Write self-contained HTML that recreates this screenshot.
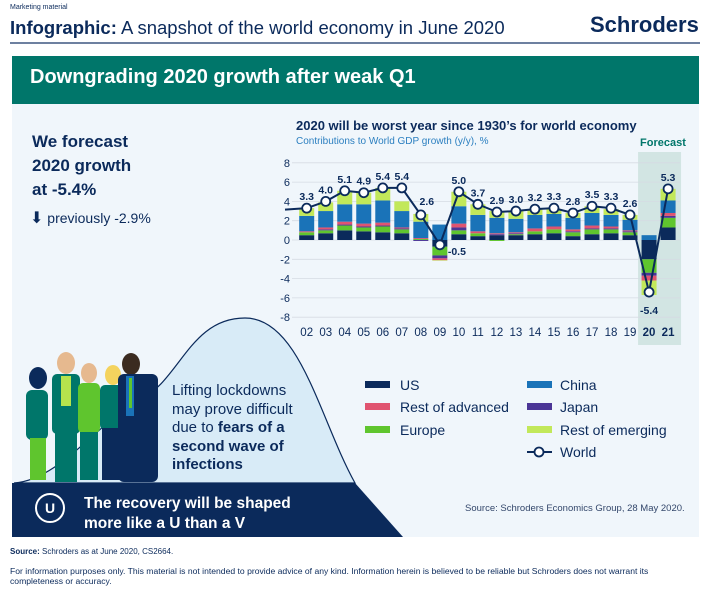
<!DOCTYPE html>
<html><head><meta charset="utf-8"><style>
body{margin:0;width:711px;height:600px;background:#fff;font-family:"Liberation Sans","DejaVu Sans",sans-serif;color:#0b2a5b;position:relative;overflow:hidden}
.a{position:absolute;white-space:nowrap}
</style></head><body>
<div class="a" style="left:10px;top:4px;font-size:7px">Marketing material</div>
<div class="a" style="left:10px;top:17px;font-size:18.5px"><b>Infographic:</b> A snapshot of the world economy in June 2020</div>
<div class="a" style="left:590px;top:12px;font-size:22px;font-weight:bold;color:#0b2a5b">Schroders</div>
<div class="a" style="left:10px;top:42px;width:690px;height:2px;background:#6d80a0"></div>
<div class="a" style="left:12px;top:56px;width:687px;height:481px;background:#f0f6fb"></div>
<div class="a" style="left:12px;top:56px;width:687px;height:48px;background:#00766a"></div>
<div class="a" style="left:30px;top:66px;font-size:20px;font-weight:bold;color:#fff">Downgrading 2020 growth after weak Q1</div>
<div class="a" style="left:32px;top:130px;font-size:17px;font-weight:bold;line-height:24px">We forecast<br>2020 growth<br>at -5.4%</div>
<div class="a" style="left:30px;top:208px;font-size:14px"><span style="font-size:16px">&#11015;</span> previously -2.9%</div>

<svg class="a" style="left:0;top:0" width="711" height="600">
<path d="M14,483 C60,480 100,420 140,400 C180,380 190,318 245,318 C300,318 320,420 355,483 Z" fill="#d8ebf7" stroke="#0b2a5b" stroke-width="1.2"/>
<path d="M12,483 L355,483 L403,537 L12,537 Z" fill="#0b2a5b"/>
<g>
<ellipse cx="38" cy="378" rx="9" ry="11" fill="#0b2a5b"/><rect x="26" y="390" width="22" height="50" rx="6" fill="#00766a"/><rect x="30" y="438" width="16" height="42" fill="#5fc52e"/>
<ellipse cx="66" cy="363" rx="9" ry="11" fill="#e6b98f"/><rect x="52" y="374" width="28" height="60" rx="5" fill="#00766a"/><rect x="61" y="376" width="10" height="30" fill="#b6e34d"/><rect x="55" y="432" width="22" height="50" fill="#00766a"/>
<ellipse cx="89" cy="373" rx="8" ry="10" fill="#e6b98f"/><rect x="78" y="383" width="22" height="50" rx="5" fill="#5fc52e"/><rect x="80" y="432" width="18" height="48" fill="#00766a"/>
<ellipse cx="113" cy="375" rx="8" ry="10" fill="#f4d35e"/><rect x="100" y="385" width="26" height="45" rx="5" fill="#00766a"/><rect x="102" y="428" width="22" height="52" fill="#0b2a5b"/>
<ellipse cx="131" cy="364" rx="9" ry="11" fill="#3b2b20"/><rect x="118" y="374" width="40" height="108" rx="6" fill="#0b2a5b"/><rect x="126" y="376" width="8" height="40" fill="#1a73b8"/><rect x="129" y="378" width="3" height="30" fill="#5fc52e"/>
</g>
</svg>
<div class="a" style="left:172px;top:382px;font-size:15px;line-height:18.5px;color:#0b2a5b">Lifting lockdowns<br>may prove difficult<br>due to <b>fears of a<br>second wave of<br>infections</b></div>
<div class="a" style="left:35px;top:493px;width:26px;height:26px;border:2px solid #fff;border-radius:50%;color:#fff;font-weight:bold;font-size:14px;text-align:center;line-height:26px">U</div>
<div class="a" style="left:84px;top:494px;font-size:15.5px;font-weight:bold;color:#fff;line-height:20px">The recovery will be shaped<br>more like a U than a V</div>

<div class="a" style="left:296px;top:118px;font-size:13px;font-weight:bold">2020 will be worst year since 1930’s for world economy</div>
<div class="a" style="left:296px;top:136px;font-size:10px;color:#2b7fc0">Contributions to World GDP growth (y/y), %</div>
<div class="a" style="left:640px;top:137px;font-size:11px;font-weight:bold;color:#00766a">Forecast</div>
<svg class="a" id="chart" style="left:0;top:0" width="711" height="360"></svg>

<svg class="a" style="left:0;top:0" width="711" height="600">
<rect x="365" y="381" width="25" height="7" fill="#0b2a5b"/>
<rect x="365" y="403" width="25" height="7" fill="#e05470"/>
<rect x="365" y="426" width="25" height="7" fill="#5fc52e"/>
<rect x="527" y="381" width="25" height="7" fill="#1a73b8"/>
<rect x="527" y="403" width="25" height="7" fill="#4b3596"/>
<rect x="527" y="426" width="25" height="7" fill="#c2e85a"/>
<g><line x1="527" y1="452" x2="552" y2="452" stroke="#0b2a5b" stroke-width="2"/><circle cx="539" cy="452" r="4.5" fill="#fff" stroke="#0b2a5b" stroke-width="1.8"/></g>
<g font-size="14" fill="#0b2a5b" font-family="Liberation Sans, sans-serif">
<text x="400" y="390">US</text><text x="400" y="412">Rest of advanced</text><text x="400" y="435">Europe</text>
<text x="560" y="390">China</text><text x="560" y="412">Japan</text><text x="560" y="435">Rest of emerging</text><text x="560" y="457">World</text></g>
</svg>
<div class="a" style="left:465px;top:503px;font-size:9.5px;color:#33476b">Source: Schroders Economics Group, 28 May 2020.</div>
<div class="a" style="left:10px;top:547px;font-size:8px"><b>Source:</b> Schroders as at June 2020, CS2664.</div>
<div class="a" style="left:10px;top:566px;font-size:8.6px;line-height:10px;white-space:normal;width:690px">For information purposes only. This material is not intended to provide advice of any kind. Information herein is believed to be reliable but Schroders does not warrant its completeness or accuracy.</div>

<script>
const years=["02","03","04","05","06","07","08","09","10","11","12","13","14","15","16","17","18","19","20","21"];
const us=[0.5,0.7,1.0,0.9,0.8,0.7,0.0,-0.7,0.6,0.4,0.5,0.5,0.6,0.7,0.4,0.6,0.7,0.5,-2.0,1.3];
const europe=[0.3,0.3,0.5,0.4,0.6,0.4,0.1,-0.9,0.4,0.3,-0.1,0.1,0.3,0.4,0.4,0.5,0.4,0.3,-1.4,1.0];
const japan=[0.0,0.1,0.1,0.1,0.1,0.1,-0.1,-0.3,0.3,0.0,0.1,0.1,0.0,0.0,0.1,0.1,0.1,0.1,-0.3,0.2];
const restAdv=[0.1,0.2,0.3,0.3,0.3,0.1,0.1,-0.2,0.4,0.2,0.1,0.1,0.3,0.3,0.2,0.3,0.2,0.1,-0.5,0.3];
const china=[1.6,1.7,1.8,2.0,2.3,1.7,1.7,1.6,1.8,1.7,1.6,1.4,1.4,1.3,1.2,1.3,1.2,1.1,0.5,1.3];
const restEm=[0.8,0.9,1.4,1.2,1.3,1.0,0.8,-0.05,1.5,1.1,0.7,0.8,0.6,0.5,0.5,0.7,0.6,0.5,-1.5,1.2];
const world=[3.3,4.0,5.1,4.9,5.4,5.4,2.6,-0.5,5.0,3.7,2.9,3.0,3.2,3.3,2.8,3.5,3.3,2.6,-5.4,5.3];
const yTicks=[8,6,4,2,0,-2,-4,-6,-8];
const series=[[us,"#0b2a5b","us"],[europe,"#5fc52e","europe"],[japan,"#4b3596","japan"],[restAdv,"#e05470","rest-advanced"],[china,"#1a73b8","china"],[restEm,"#c2e85a","rest-emerging"]];
const NS="http://www.w3.org/2000/svg";
const svg=document.getElementById('chart');
const y=v=>240-v*9.65;
const x=i=>306.7+i*19.02;
function mk(t,a,p){const e=document.createElementNS(NS,t);for(const k in a)e.setAttribute(k,a[k]);(p||svg).appendChild(e);return e;}
const fc=mk('rect',{x:x(18)-11,y:152,width:43,height:193,fill:"#d2e5e3"});


yTicks.forEach(t=>{
 const g=mk('line',{x1:292,x2:680,y1:y(t),y2:y(t),stroke:"#d5dbe3","stroke-width":0.8});
 
 
 const l=mk('text',{x:290,y:y(t)+4,"text-anchor":"end","font-size":11,fill:"#0b2a5b"});
 l.textContent=t;
 
 
});
years.forEach((yr,i)=>{
 let pos=0,neg=0;
 series.forEach(([arr,col,nm])=>{
  const v=arr[i];let y0,y1;
  if(v>=0){y0=pos;y1=pos+v;pos=y1;}else{y0=neg;y1=neg+v;neg=y1;}
  const r=mk('rect',{x:x(i)-7.5,y:Math.min(y(y0),y(y1)),width:15,height:Math.abs(y(y1)-y(y0)),fill:col});
  
  
 });
 const t=mk('text',{x:x(i),y:336,"text-anchor":"middle","font-size":11.5,fill:"#0b2a5b","font-weight":i>=18?"bold":"normal"});
 t.textContent=yr;
 
 
});
let d="M285,"+y(3.15);
world.forEach((v,i)=>{d+=" L"+x(i)+","+y(v);});
const ln=mk('path',{d:d,fill:"none",stroke:"#0b2a5b","stroke-width":2});


world.forEach((v,i)=>{
 const c=mk('circle',{cx:x(i),cy:y(v),r:4.5,fill:"#fff",stroke:"#0b2a5b","stroke-width":1.8});
 
 
 let lx=x(i),ly=y(v)-8,anc="middle";
 if(v<0&&i===7){lx=x(i)+8;ly=y(v)+10;anc="start";}
 else if(v<0){ly=y(v)+22;}
 else if(i===6){lx=x(i)+6;ly=y(v)-10;}
 const t=mk('text',{x:lx,y:ly,"text-anchor":anc,"font-size":10.5,"font-weight":"bold",fill:"#0b2a5b"});
 t.textContent=v.toFixed(1);
 
 
});
</script>
</body></html>
